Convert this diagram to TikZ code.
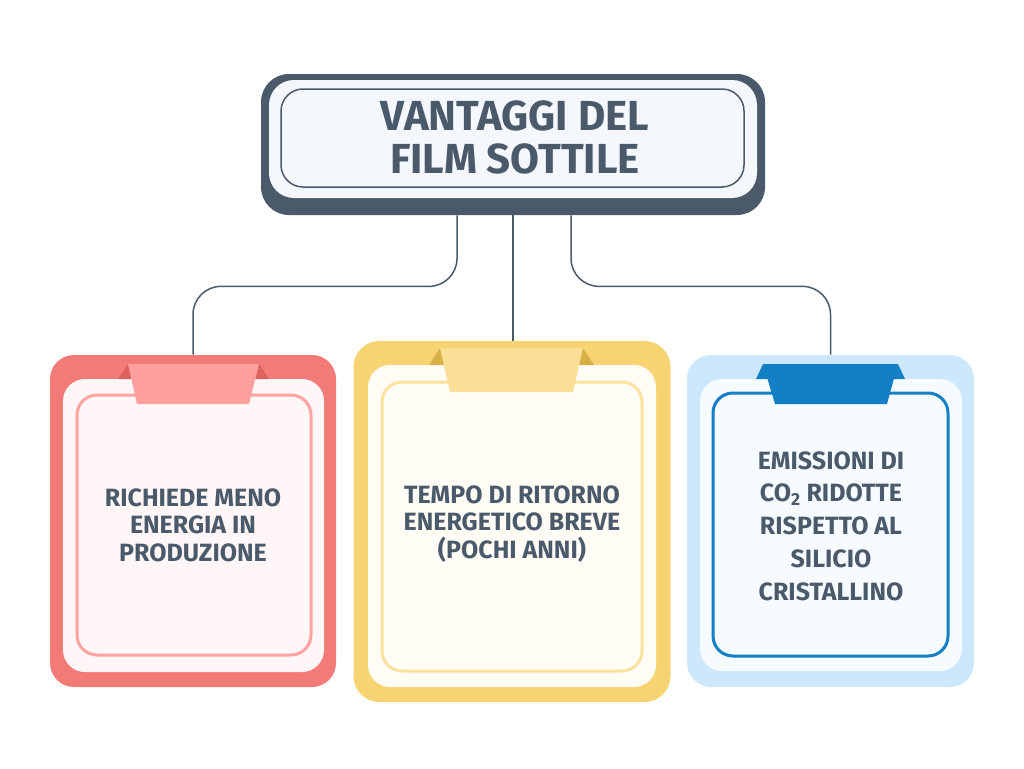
\documentclass[tikz,border=0pt]{standalone}
\usepackage{fontspec}
\setmainfont{Fira Sans}
\definecolor{slate}{HTML}{4A5A6A}
\definecolor{titlefill}{HTML}{F4F8FD}
\definecolor{redout}{HTML}{F37B77}
\definecolor{redin}{HTML}{FFF7F7}
\definecolor{redline}{HTML}{FFA3A1}
\definecolor{redtab}{HTML}{FFA09F}
\definecolor{redear}{HTML}{E0625F}
\definecolor{yelout}{HTML}{F7D372}
\definecolor{yelin}{HTML}{FFFDF6}
\definecolor{yelline}{HTML}{FCE29D}
\definecolor{yeltab}{HTML}{FCDF97}
\definecolor{yelear}{HTML}{D8AE47}
\definecolor{bluout}{HTML}{CDE8FC}
\definecolor{bluin}{HTML}{F6FBFF}
\definecolor{bluline}{HTML}{1380C6}
\tikzset{every picture/.style={line width=0.75pt}}
\tikzset{
  cardout/.style={inner sep=0pt, rounded corners=24pt},
  cardtext/.style={text=slate, align=center, inner sep=0pt,
    font=\fontsize{25}{27.5}\selectfont\bfseries},
  link/.style={draw=slate, line width=1.5pt, rounded corners=28pt}
}

\begin{document}
\begin{tikzpicture}[x=1pt,y=1pt,yscale=-1,xscale=1]
\useasboundingbox (0,0) rectangle (1024,768);

%Shape: Title plate
\node [fill=slate, rounded corners=28pt, inner sep=0pt, minimum width=504pt, minimum height=141pt] (title) at (513,144.5) {};
\fill [titlefill, rounded corners=25pt] (269,80) rectangle (757,198);
\draw [slate, fill=titlefill, line width=1.5pt, rounded corners=22pt] (281,89) rectangle (744,187);
% Text Node
\node [text=slate, align=center, inner sep=0pt, font=\fontsize{42}{43}\selectfont\bfseries] (titletext) at (515,137) {VANTAGGI DEL\\FILM SOTTILE};

%Shape: Card left
\node [cardout, fill=redout, minimum width=286pt, minimum height=332pt] (c1) at (193,521) {};
\fill [redin, rounded corners=22pt] (63,379) rectangle (324,672);
\draw [redline, line width=3pt, rounded corners=20pt] (77,395) rectangle (311,655);
\fill [redear] (128,364) -- (118,379) -- (138,379) -- cycle;
\fill [redear] (259,364) -- (269,379) -- (249,379) -- cycle;
\fill [redtab] (128,364) -- (259,364) -- (249,404) -- (137,404) -- cycle;
% Text Node
\node [cardtext] (t1) at (193,525) {RICHIEDE MENO\\ENERGIA IN\\PRODUZIONE};

%Shape: Card middle
\node [cardout, fill=yelout, rounded corners=26pt, minimum width=317pt, minimum height=361pt] (c2) at (512,521.5) {};
\fill [yelin, rounded corners=22pt] (368,365) rectangle (656,687);
\draw [yelline, line width=3pt, rounded corners=20pt] (382,382) rectangle (642,671);
\fill [yelear] (440,348) -- (429,365) -- (447,365) -- cycle;
\fill [yelear] (583,348) -- (594,365) -- (576,365) -- cycle;
\fill [yeltab] (440,348) -- (583,348) -- (573,392) -- (450,392) -- cycle;
% Text Node
\node [cardtext] (t2) at (512,524) {TEMPO DI RITORNO\\ENERGETICO BREVE\\(POCHI ANNI)};

%Shape: Card right
\node [cardout, fill=bluout, minimum width=287pt, minimum height=332pt] (c3) at (830.5,521) {};
\fill [bluin, rounded corners=22pt] (700,379) rectangle (962,671);
\draw [bluline, line width=3pt, rounded corners=20pt] (713,393) rectangle (948,656);
\fill [bluline] (763,364) -- (756,379) -- (771,379) -- cycle;
\fill [bluline] (898,364) -- (905,379) -- (890,379) -- cycle;
\fill [bluline] (763,364) -- (898,364) -- (887,404) -- (775,404) -- cycle;
% Text Node
\node [cardtext, font=\fontsize{25}{32.7}\selectfont\bfseries] (t3) at (831,526) {EMISSIONI DI\\CO\textsubscript{2} RIDOTTE\\RISPETTO AL\\SILICIO\\CRISTALLINO};

%Straight Lines
\draw [link] ([xshift=-56pt]title.south) -- ++(0,71) -| (c1.north);
\draw [link] (title.south) -- (title.south |- c2.north);
\draw [link] ([xshift=58pt]title.south) -- ++(0,71) -| (c3.north);
\end{tikzpicture}
\end{document}
